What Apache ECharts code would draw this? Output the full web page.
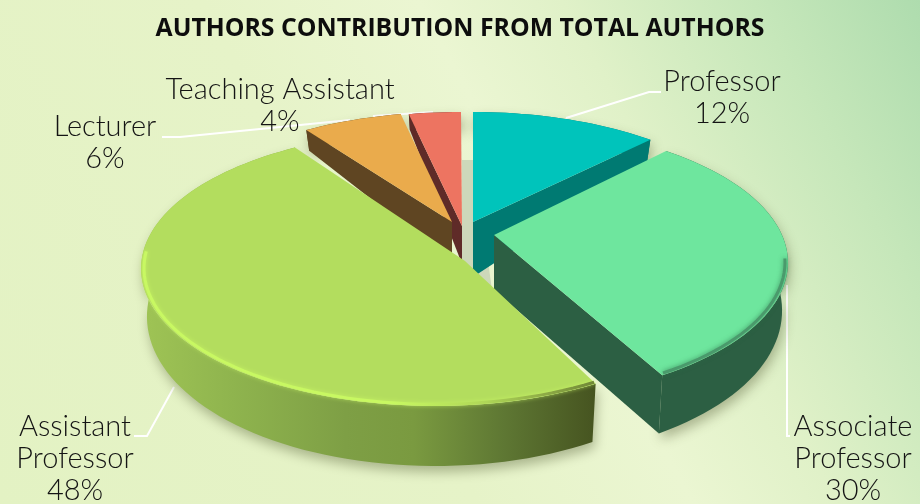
<!DOCTYPE html>
<html><head><meta charset="utf-8">
<style>html,body{margin:0;padding:0;background:#e6f3c8}#c{width:920px;height:504px}</style>
<script src="https://cdn.jsdelivr.net/npm/echarts@6/dist/echarts.min.js"></script>
</head><body><div id="c"></div>
<script>
const titleText = 'AUTHORS CONTRIBUTION FROM TOTAL AUTHORS';
const categories = ['Professor', 'Associate\nProfessor', 'Assistant\nProfessor', 'Lecturer', 'Teaching Assistant'];
const values = [12, 30, 48, 6, 4];

const topColors = ['#00c4bb', '#6ee69e', '#b3dd5e', '#eaab4c', '#ed7461'];
const wallColors = ['#007a72', '#2c5f43', '#8fb44e', '#5f4522', '#5f2b28'];
const drawOrder = [1, 4, 5, 3, 2];
const arcCenters = [[473,222],[494,235],[435,241],[452,222],[461,222]];
const tips = [[473,222],[494,235],[465,261],[452,222],[462,226]];
const tipDepths = [55, 55, 0, 40, 38];
const wallEnd = ['end', 'end', null, 'start', 'start'];
const startPad = [0, 0, 1.5, 0, 1.9];
const endPad = [1.5, 0, 1.5, 2.1, 0];
const labelPos = [[722,82],[853,427],[75,427],[105,127],[280,90]];
const leaders = [
  [[[566,118],[649,92],[661,92]]],
  [[[787,285],[787,436],[790,436]]],
  [[[134,436],[147,436],[174,387]]],
  [[[162,137],[180,137],[350,120]]],
  [[[373,116],[433,112]]]
];
const RX = 288, RY = 132, K = 0.2;

const total = values.reduce((a,b)=>a+b,0);
function proj(c, deg, f){
  const t = deg*Math.PI/180, sn = Math.sin(t), cs = Math.cos(t), s = 1/(1+K*cs), r = f||1;
  return [c[0]+s*RX*sn*r, c[1]-s*RY*cs*r];
}
function depthAt(deg){
  const v = -Math.cos(deg*Math.PI/180);
  return v<0 ? 45+30*v : 45+15*v;
}
function arcPts(c, a, b, f){
  const out=[], n=Math.max(4,Math.ceil((b-a)/2));
  for(let i=0;i<=n;i++) out.push(proj(c,a+(b-a)*i/n,f));
  return out;
}
const grad = (x,y,x2,y2,stops)=>new echarts.graphic.LinearGradient(x,y,x2,y2,stops);

function renderSlice(params, api){
  const i = params.dataIndex, val = api.value(0);
  let acc = 0; for(let j=0;j<i;j++) acc += values[j];
  const a = acc/total*360+startPad[i], b = (acc+val)/total*360+endPad[i];
  const c = arcCenters[i], tip = tips[i], z = drawOrder[i]*10;
  const top = arcPts(c,a,b);
  const bottom = [];
  for(let n=0;n<top.length;n++){
    const deg = a+(b-a)*n/(top.length-1), p = top[n];
    bottom.push([c[0]+(p[0]-c[0])*0.98, p[1]+depthAt(deg)]);
  }
  const kids = [];
  let wallFill = wallColors[i];
  if(i===2) wallFill = grad(0,0,1,0,[
    {offset:0,color:'#9fc455'},{offset:.2,color:'#8fb44e'},{offset:.45,color:'#7e9f45'},
    {offset:.6,color:'#7a9a40'},{offset:.8,color:'#5e7733'},{offset:1,color:'#465420'}]);
  kids.push({type:'polygon',z2:z,shape:{points:top.concat(bottom.slice().reverse())},
    style:{fill:wallFill,shadowBlur:12,shadowColor:'rgba(70,80,40,.38)',shadowOffsetY:6,shadowOffsetX:2}});
  if(wallEnd[i]){
    const k = wallEnd[i]==='end' ? top.length-1 : 0;
    kids.push({type:'polygon',z2:z+1,
      shape:{points:[[tip[0],tip[1]],[tip[0],tip[1]+tipDepths[i]],bottom[k],top[k]]},
      style:{fill:wallColors[i]}});
  }
  kids.push({type:'polygon',z2:z+2,shape:{points:[tip].concat(top)},style:{fill:topColors[i]}});
  if(i===2){
    kids.push({type:'polyline',z2:z+3,shape:{points:arcPts(c,a,b-60,0.99).reverse()},
      style:{fill:'none',lineWidth:3,shadowBlur:4,shadowColor:'rgba(205,250,100,.7)',
        stroke:grad(0,0,1,0,[{offset:0,color:'#c8f862'},{offset:.55,color:'#c8f862'},{offset:.75,color:'#b0d858'},
          {offset:.9,color:'#8aa644'},{offset:1,color:'#6f8636'}])}});
  }
  if(i===1){
    kids.push({type:'polyline',z2:z+3,shape:{points:arcPts(c,100,b-0.5,0.99)},
      style:{fill:'none',lineWidth:3,shadowBlur:5,shadowColor:'rgba(40,110,70,.7)',stroke:'#4a9a6c'}});
  }
  leaders[i].forEach(pts=>kids.push({type:'polyline',z2:2,shape:{points:pts},
    style:{fill:'none',stroke:'#ffffff',lineWidth:2}}));
  const lp = labelPos[i];
  kids.push({type:'text',z2:200,style:{
    text:api.value(1)+'\n'+val+'%',x:lp[0],y:lp[1]-16,align:'center',verticalAlign:'top',
    lineHeight:32,fill:'#141414',font:'300 29px Lato, sans-serif'}});
  return {type:'group',children:kids};
}

const chart = echarts.init(document.getElementById('c'),null,{renderer:'canvas'});
chart.setOption({
  animation:false,
  backgroundColor:grad(1,0,0,1,[
    {offset:0,color:'#aedcae'},{offset:.14,color:'#c6e7ba'},{offset:.3,color:'#e0f1c8'},
    {offset:.42,color:'#ebf6d2'},{offset:.6,color:'#e6f3c8'},{offset:1,color:'#e3f2c3'}]),
  title:{text:titleText,left:'center',top:11,textStyle:{
    fontFamily:'Open Sans',fontWeight:'bold',fontSize:24.8,color:'#0d0d0d'}},
  tooltip:{show:false},
  series:[
    {type:'custom',coordinateSystem:'none',silent:true,clip:false,
     renderItem:function(p,api){
       const kids=[{type:'polygon',z2:1,shape:{points:[[462,160],[474,160],[492,290],[462,292]]},
         style:{fill:'#cdd8ba'}}];
       return p.dataIndex===0?{type:'group',children:kids}:null;
     },data:[[0]]},
    {type:'custom',coordinateSystem:'none',silent:true,clip:false,
     renderItem:renderSlice,
     encode:{value:0},
     data:values.map((v,i)=>[v,categories[i]]),
     dimensions:[{name:'v',type:'number'},{name:'n',type:'ordinal'}]}
  ]
});
</script></body></html>
